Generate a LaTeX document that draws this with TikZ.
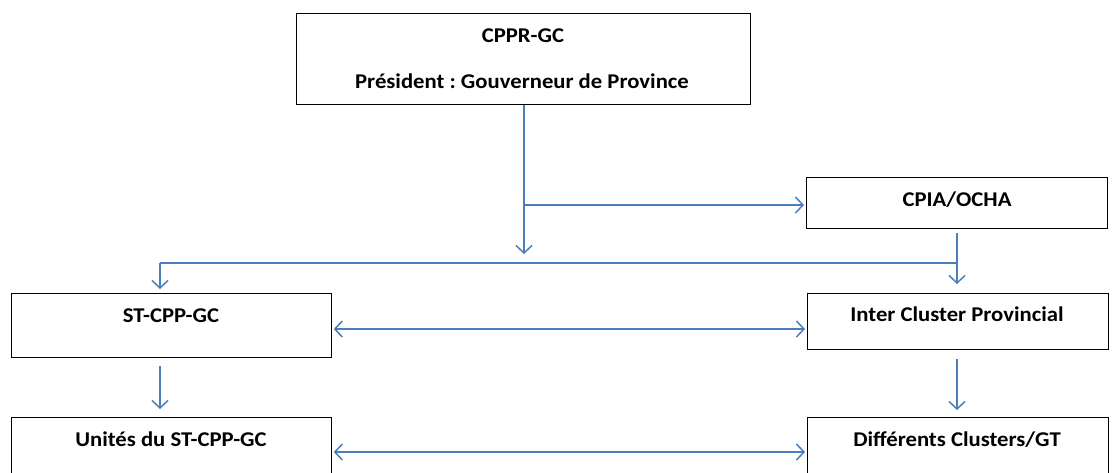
\documentclass[tikz,border=0pt]{standalone}
\usepackage{fontspec}
\setmainfont{Carlito}[FakeStretch=1.08]
\usetikzlibrary{arrows.meta}
\definecolor{arrowblue}{HTML}{4A7EBB}
\frenchspacing
\begin{document}
\begin{tikzpicture}[x=1pt,y=-1pt,
  box/.style={draw=black, line width=0.8pt, anchor=north west, inner sep=0pt},
  lbl/.style={font=\fontsize{21}{24}\selectfont\bfseries, inner sep=0pt, anchor=base},
  conn/.style={draw=arrowblue, line width=1.5pt},
  tip/.tip={Straight Barb[length=7.5pt,width=16pt,line width=1.5pt]},
  arr/.style={conn, -tip},
  darr/.style={conn, tip-tip}]
\useasboundingbox (0,0) rectangle (1112,472);
% boxes
\node[box, minimum width=454pt, minimum height=91pt] (cppr) at (296,13) {};
\node[box, minimum width=301pt, minimum height=51pt] (cpia) at (806,177) {};
\node[box, minimum width=320pt, minimum height=64pt] (st) at (11,293) {};
\node[box, minimum width=301pt, minimum height=56pt] (ic) at (807,293) {};
\node[box, minimum width=320pt, minimum height=56pt] (un) at (11,417) {};
\node[box, minimum width=301pt, minimum height=56pt] (dc) at (807,417) {};
% labels
\node[lbl] (t1) at (523,42.5) {CPPR-GC};
\node[lbl] (t2) at (522,88) {Président : Gouverneur de Province};
\node[lbl] (t3) at (957,206.5) {CPIA/OCHA};
\node[lbl] (t4) at (171,322) {ST-CPP-GC};
\node[lbl] (t5) at (957,321.5) {Inter Cluster Provincial};
\node[lbl] (t6) at (171,446) {Unités du ST-CPP-GC};
\node[lbl] (t7) at (957,446) {Différents Clusters/GT};
% connectors
\coordinate (top) at (524,104);
\coordinate (branch) at (524,205);
\coordinate (bus) at (524,254);
\coordinate (hl) at (160,263);
\coordinate (hr) at (957,263);
\coordinate (r1) at (0,329);
\coordinate (r2) at (0,452);
\draw[arr] (cppr.south -| top) -- (bus);
\draw[arr] (branch) -- ([xshift=-2pt]branch -| cpia.west);
\draw[conn] (hl) -- (hr);
\draw[arr] (hl) -- ([yshift=4pt]st.north -| hl);
\draw[arr] ([yshift=-4pt]cpia.south -| hr) -- ([yshift=9pt]ic.north -| hr);
\draw[darr] ([xshift=2pt]st.east |- r1) -- ([xshift=-2pt]ic.west |- r1);
\draw[darr] ([xshift=2pt]un.east |- r2) -- ([xshift=-2pt]dc.west |- r2);
\draw[arr] ([yshift=-8pt]st.south -| hl) -- ([yshift=8pt]un.north -| hl);
\draw[arr] ([yshift=-9pt]ic.south -| hr) -- ([yshift=7pt]dc.north -| hr);
\end{tikzpicture}
\end{document}
